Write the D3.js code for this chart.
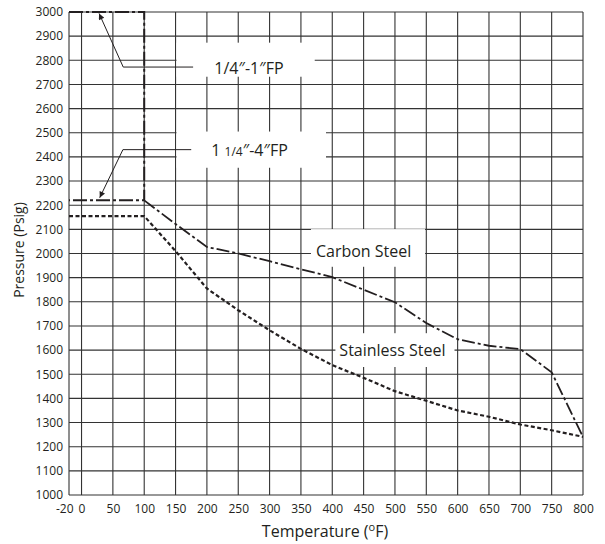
<!DOCTYPE html>
<html>
<head>
<meta charset="utf-8">
<script src="https://cdn.jsdelivr.net/npm/d3@7"></script>
<style>
  body { margin: 0; background: #fff; }
  text { font-family: "Open Sans", "Noto Sans", sans-serif; fill: #231f20; }
</style>
</head>
<body>
<svg id="svg" width="605" height="544"></svg>
<script>
// data
const tempTicks = [-20, 0, 50, 100, 150, 200, 250, 300, 350, 400, 450, 500, 550, 600, 650, 700, 750, 800];
const psiTicks = [1000, 1100, 1200, 1300, 1400, 1500, 1600, 1700, 1800, 1900, 2000, 2100, 2200, 2300, 2400, 2500, 2600, 2700, 2800, 2900, 3000];

const carbonTemp = [100, 150, 200, 250, 300, 350, 400, 450, 500, 550, 600, 650, 700, 750, 800];
const carbonPsi = [2220, 2122, 2027, 2000, 1968, 1935, 1902, 1850, 1798, 1712, 1645, 1618, 1604, 1508, 1240];

const stainlessTemp = [-20, 100, 150, 200, 250, 300, 350, 400, 450, 500, 550, 600, 650, 700, 750, 800];
const stainlessPsi = [2155, 2155, 2010, 1855, 1765, 1682, 1605, 1538, 1485, 1430, 1390, 1350, 1324, 1292, 1268, 1241];

const smallFpTemp = [-20, 100, 100];
const smallFpPsi = [3000, 3000, 2220];
const largeFpTemp = [-20, 100];
const largeFpPsi = [2220, 2220];

const svg_el = document.getElementById('svg');
const svg = d3.select(svg_el);

const plotLeft = 69, plotRight = 583, plotTop = 12, plotBottom = 495;

const x = d3.scaleLinear().domain([-20, 800]).range([plotLeft, plotRight]);
const y = d3.scaleLinear().domain([1000, 3000]).range([plotBottom, plotTop]);

// grid
const grid = svg.append('g');
grid.selectAll('.vline').data(tempTicks).enter()
  .append('line')
  .attr('x1', d => x(d)).attr('x2', d => x(d))
  .attr('y1', plotTop).attr('y2', plotBottom)
  .attr('stroke', '#333').attr('stroke-width', 1.1);
grid.selectAll('.hline').data(psiTicks).enter()
  .append('line')
  .attr('x1', plotLeft).attr('x2', plotRight)
  .attr('y1', d => y(d)).attr('y2', d => y(d))
  .attr('stroke', '#333').attr('stroke-width', 1.1);

// axes, drawn as plain tick labels
const xAxis = d3.axisBottom(x).tickValues(tempTicks).tickFormat(d => String(d)).tickSize(0).tickPadding(9);
const xg = svg.append('g').attr('transform', `translate(0,${plotBottom})`).call(xAxis);
xg.select('.domain').remove();
xg.selectAll('text')
  .style('font-family', '"Open Sans", sans-serif').style('font-size', '12px').attr('fill', '#231f20')
  .attr('text-anchor', d => d === -20 ? 'end' : 'middle')
  .attr('x', d => d === -20 ? 4 : 0);

const yAxis = d3.axisLeft(y).tickValues(psiTicks).tickFormat(d => String(d)).tickSize(0).tickPadding(6);
const yg = svg.append('g').attr('transform', `translate(${plotLeft},0)`).call(yAxis);
yg.select('.domain').remove();
yg.selectAll('text')
  .style('font-family', '"Open Sans", sans-serif').style('font-size', '12px').attr('fill', '#231f20');

// axis titles
const xt = svg.append('text')
  .attr('x', 325).attr('y', 537)
  .attr('text-anchor', 'middle')
  .style('font-size', '16px');
xt.append('tspan').text('Temperature (');
xt.append('tspan').text('o').style('font-size', '11px').attr('dy', -6);
xt.append('tspan').text('F)').attr('dy', 6);

svg.append('text')
  .attr('transform', 'translate(24,250) rotate(-90)')
  .attr('text-anchor', 'middle')
  .style('font-size', '14px')
  .text('Pressure (Psig)');

// label boxes that break the grid
const box = (t0, t1, p0, p1) => svg.append('rect')
  .attr('x', x(t0)).attr('y', y(p1))
  .attr('width', x(t1) - x(t0)).attr('height', y(p0) - y(p1))
  .attr('fill', '#fff');
box(151.5, 372, 2732, 2873);
box(151.5, 390, 2355, 2505);
box(366, 548, 1945, 2101);
box(405, 595, 1530, 1670);

// lines
const lineOf = (ts, ps) => d3.line().x((d, i) => x(ts[i])).y((d, i) => y(ps[i]))(ts);

svg.append('path')
  .attr('d', lineOf(stainlessTemp, stainlessPsi))
  .attr('fill', 'none').attr('stroke', '#231f20')
  .attr('stroke-width', 2.2).attr('stroke-dasharray', '4,2.5');

svg.append('path')
  .attr('d', lineOf(carbonTemp, carbonPsi))
  .attr('fill', 'none').attr('stroke', '#231f20')
  .attr('stroke-width', 1.8).attr('stroke-dasharray', '13,3,3,3');

svg.append('path')
  .attr('d', lineOf(largeFpTemp, largeFpPsi))
  .attr('fill', 'none').attr('stroke', '#231f20')
  .attr('stroke-width', 2).attr('stroke-dasharray', '14,3,3,3')
  .attr('stroke-dashoffset', -4);

svg.append('path')
  .attr('d', lineOf(smallFpTemp, smallFpPsi))
  .attr('fill', 'none').attr('stroke', '#231f20')
  .attr('stroke-width', 2).attr('stroke-dasharray', '14,3,3,3');

// leaders with arrow heads
svg.append('defs').append('marker')
  .attr('id', 'arrow')
  .attr('viewBox', '0 0 10 10')
  .attr('refX', 10).attr('refY', 5)
  .attr('markerWidth', 9).attr('markerHeight', 6)
  .attr('markerUnits', 'userSpaceOnUse')
  .attr('orient', 'auto-start-reverse')
  .append('path').attr('d', 'M0,0L10,5L0,10z').attr('fill', '#231f20');

const leader = (pts) => svg.append('path')
  .attr('d', d3.line().x(d => x(d[0])).y(d => y(d[1]))(pts))
  .attr('fill', 'none').attr('stroke', '#231f20').attr('stroke-width', 1)
  .attr('marker-start', 'url(#arrow)');
leader([[28, 2994], [66.5, 2772], [178, 2772]]);
leader([[29, 2231], [66, 2430], [175, 2430]]);

// labels
svg.append('text')
  .attr('x', x(267)).attr('y', y(2770) + 6)
  .attr('text-anchor', 'middle').style('font-size', '16px')
  .text('1/4\u2033-1\u2033FP');

const l2 = svg.append('text')
  .attr('x', x(268)).attr('y', y(2430) + 6)
  .attr('text-anchor', 'middle').style('font-size', '16px');
l2.append('tspan').text('1 ');
l2.append('tspan').text('1/4').style('font-size', '12px');
l2.append('tspan').text('\u2033-4\u2033FP');

svg.append('text')
  .attr('x', x(450)).attr('y', y(2000) + 3)
  .attr('text-anchor', 'middle').style('font-size', '16px')
  .text('Carbon Steel');

svg.append('text')
  .attr('x', x(496)).attr('y', y(1600) + 6)
  .attr('text-anchor', 'middle').style('font-size', '16px')
  .text('Stainless Steel');
</script>
</body>
</html>
